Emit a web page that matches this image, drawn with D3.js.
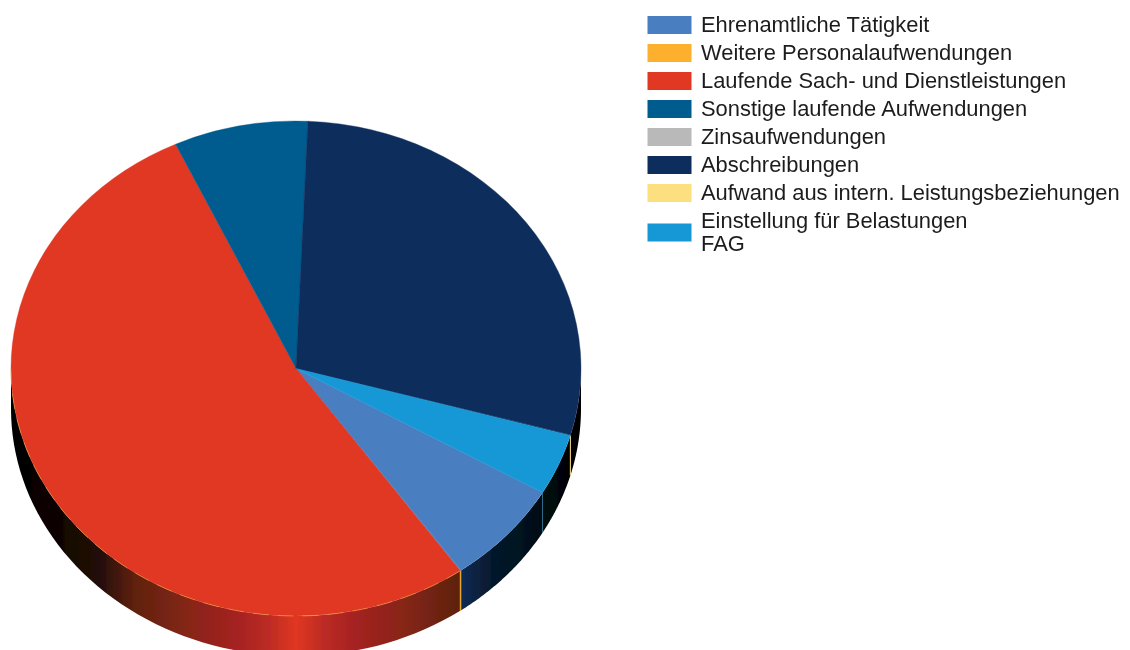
<!DOCTYPE html>
<html>
<head>
<meta charset="utf-8">
<script src="https://cdn.jsdelivr.net/npm/d3@7"></script>
<style>
  html, body { margin: 0; padding: 0; background: #fff; }
  svg { display: block; }
  .legend-txt { font-family: "Liberation Sans", sans-serif; font-size: 21.9px; fill: #1c1c1c; }
</style>
</head>
<body>
<div id="chart"></div>
<script>
// values, in degrees of the pie
const labels = [
    ["Ehrenamtliche Tätigkeit"],
    ["Weitere Personalaufwendungen"],
    ["Laufende Sach- und Dienstleistungen"],
    ["Sonstige laufende Aufwendungen"],
    ["Zinsaufwendungen"],
    ["Abschreibungen"],
    ["Aufwand aus intern. Leistungsbeziehungen"],
    ["Einstellung für Belastungen", "FAG"]
];
const values = [24.5, 0.2, 190.2, 27.4, 0, 103.1, 0.2, 14.4];
const colors = ["#4a7fc1", "#fdb02d", "#e03722", "#005b8e", "#b9b9b9", "#112e5b", "#fcdf7f", "#1697d6"];
const startAngle = 120.1;

// side wall shades from the pie's outer edge to its middle, mirrored for the other half
const sideOffsets = [0, 0.08, 0.156, 0.215, 0.244, 0.32, 0.388, 0.45, 0.5];
const sideColors = [
    ["#000", "#060f18", "#06192c", "#0d2c58", "#103264", "#1d4a80", "#2c5c98", "#3a6dac", "#4a7fc1"],
    ["#000", "#120a02", "#1e1204", "#b87a18", "#c08020", "#d08c22", "#e09a26", "#f0a52a", "#fdb02d"],
    ["#000", "#0e0503", "#240e07", "#5f2008", "#6a2410", "#8a2519", "#a22020", "#bb2b25", "#e03722"],
    ["#000", "#00101a", "#001c2c", "#002a40", "#00304a", "#003a58", "#00466c", "#00507c", "#005b8e"],
    ["#000", "#1a1a1a", "#333", "#555", "#666", "#7c7c7c", "#909090", "#a4a4a4", "#b9b9b9"],
    ["#000", "#020408", "#04090f", "#061222", "#08182c", "#0b1f3c", "#0d2446", "#0f2950", "#112e5b"],
    ["#000", "#17120a", "#2a2510", "#c8a030", "#cca638", "#d4b048", "#dcbc58", "#ecce6c", "#fcdf7f"],
    ["#000", "#060d14", "#08202f", "#082a40", "#0a3350", "#0d4a70", "#0f6090", "#127ab0", "#1697d6"]
];

const width = 1130, height = 650;
const margin = {left: 11, top: 121};
const rx = 285, ry = 247.5, depth = 40;
const cx = margin.left + rx, cy = margin.top + ry;

const svg = d3.select("#chart").append("svg")
    .attr("width", width)
    .attr("height", height);

const defs = svg.append("defs");
defs.append("filter").attr("id", "soft")
    .append("feGaussianBlur").attr("stdDeviation", 0.5);

colors.forEach((c, i) => {
    const grad = defs.append("linearGradient")
        .attr("id", "side-" + i)
        .attr("gradientUnits", "userSpaceOnUse")
        .attr("x1", cx - rx).attr("x2", cx + rx)
        .attr("y1", 0).attr("y2", 0);
    sideOffsets.forEach((o, k) => {
        grad.append("stop").attr("offset", o).attr("stop-color", sideColors[i][k]);
    });
    sideOffsets.slice(0, -1).reverse().forEach((o, k) => {
        grad.append("stop").attr("offset", 1 - o).attr("stop-color", sideColors[i][sideOffsets.length - 2 - k]);
    });
});

const toRad = d3.scaleLinear().domain([0, 360]).range([0, 2 * Math.PI]);

const pie = d3.pie()
    .sort(null)
    .value(d => d)
    .startAngle(toRad(startAngle))
    .endAngle(toRad(startAngle + 360));
const slices = pie(values);

const px = a => cx + rx * Math.sin(a);
const py = a => cy - ry * Math.cos(a);

// part of a slice that faces the viewer (90 to 270 degrees), slices past 360 are wrapped back
function frontRange(d) {
    const shift = d.startAngle >= 2 * Math.PI ? 2 * Math.PI
        : (d.endAngle > 5 * Math.PI / 2 ? 2 * Math.PI : 0);
    const from = Math.max(d.startAngle - shift, Math.PI / 2);
    const to = Math.min(d.endAngle - shift, 3 * Math.PI / 2);
    return to > from ? [from, to] : null;
}

function rimPoints(r) {
    return d3.range(0, 61).map(k => r[0] + (r[1] - r[0]) * k / 60);
}

function sidePath(d) {
    const r = frontRange(d);
    if (!r) return null;
    const pts = rimPoints(r);
    const top = pts.map(a => [px(a), py(a)]);
    const bottom = pts.slice().reverse().map(a => [px(a), py(a) + depth]);
    return d3.line()(top.concat(bottom)) + "Z";
}

// vertical seam where a wall ends
function seamPath(d) {
    const r = frontRange(d);
    if (!r || r[1] >= 3 * Math.PI / 2) return null;
    return d3.line()([[px(r[1]), py(r[1])], [px(r[1]), py(r[1]) + depth]]);
}

const pieG = svg.append("g").attr("filter", "url(#soft)");

pieG.selectAll("path.side")
    .data(slices)
    .enter().append("path")
    .attr("class", "side")
    .attr("d", sidePath)
    .attr("fill", (d, i) => "url(#side-" + i + ")");

pieG.selectAll("path.seam")
    .data(slices)
    .enter().append("path")
    .attr("class", "seam")
    .attr("d", seamPath)
    .attr("fill", "none")
    .attr("stroke", (d, i) => colors[i])
    .attr("stroke-opacity", (d, i) => (values[i] < 1 ? 1 : 0.45))
    .attr("stroke-width", 1);

const arc = d3.arc().innerRadius(0).outerRadius(rx);

// the hairline slices only show on the wall, on top they take the neighbour's colour
const topColor = (d, i) => (values[i] < 1 && i > 0 ? colors[i - 1] : colors[i]);

pieG.append("g")
    .attr("transform", `translate(${cx},${cy}) scale(1,${ry / rx})`)
    .selectAll("path.top")
    .data(slices)
    .enter().append("path")
    .attr("class", "top")
    .attr("d", arc)
    .attr("fill", topColor)
    .attr("stroke", topColor)
    .attr("stroke-width", 0.4);

// thin broken orange rim along the front of the big slice
pieG.append("path")
    .datum(slices[2])
    .attr("d", d => d3.line()(rimPoints(frontRange(d)).map(a => [px(a), py(a)])))
    .attr("fill", "none")
    .attr("stroke", "#f2a83c")
    .attr("stroke-opacity", 0.7)
    .attr("stroke-width", 0.8)
    .attr("stroke-dasharray", "16 9");

// legend
const lineStep = 23, rowStep = 28;
let rowTop = 11;
const legendRows = labels.map((l, i) => {
    const h = rowStep + (l.length - 1) * lineStep;
    const row = {lines: l, color: colors[i], mid: rowTop + h / 2};
    rowTop += h;
    return row;
});

const legend = svg.append("g").attr("filter", "url(#soft)");
const rows = legend.selectAll("g")
    .data(legendRows)
    .enter().append("g")
    .attr("transform", d => `translate(0,${d.mid})`);

rows.append("rect")
    .attr("x", 647.5)
    .attr("y", -9)
    .attr("width", 44)
    .attr("height", 18)
    .attr("fill", d => d.color);

rows.selectAll("text")
    .data(d => d.lines.map((t, k) => ({t: t, dy: (k - (d.lines.length - 1) / 2) * lineStep})))
    .enter().append("text")
    .attr("class", "legend-txt")
    .attr("x", 701)
    .attr("y", d => d.dy + 7)
    .text(d => d.t);
</script>
</body>
</html>
